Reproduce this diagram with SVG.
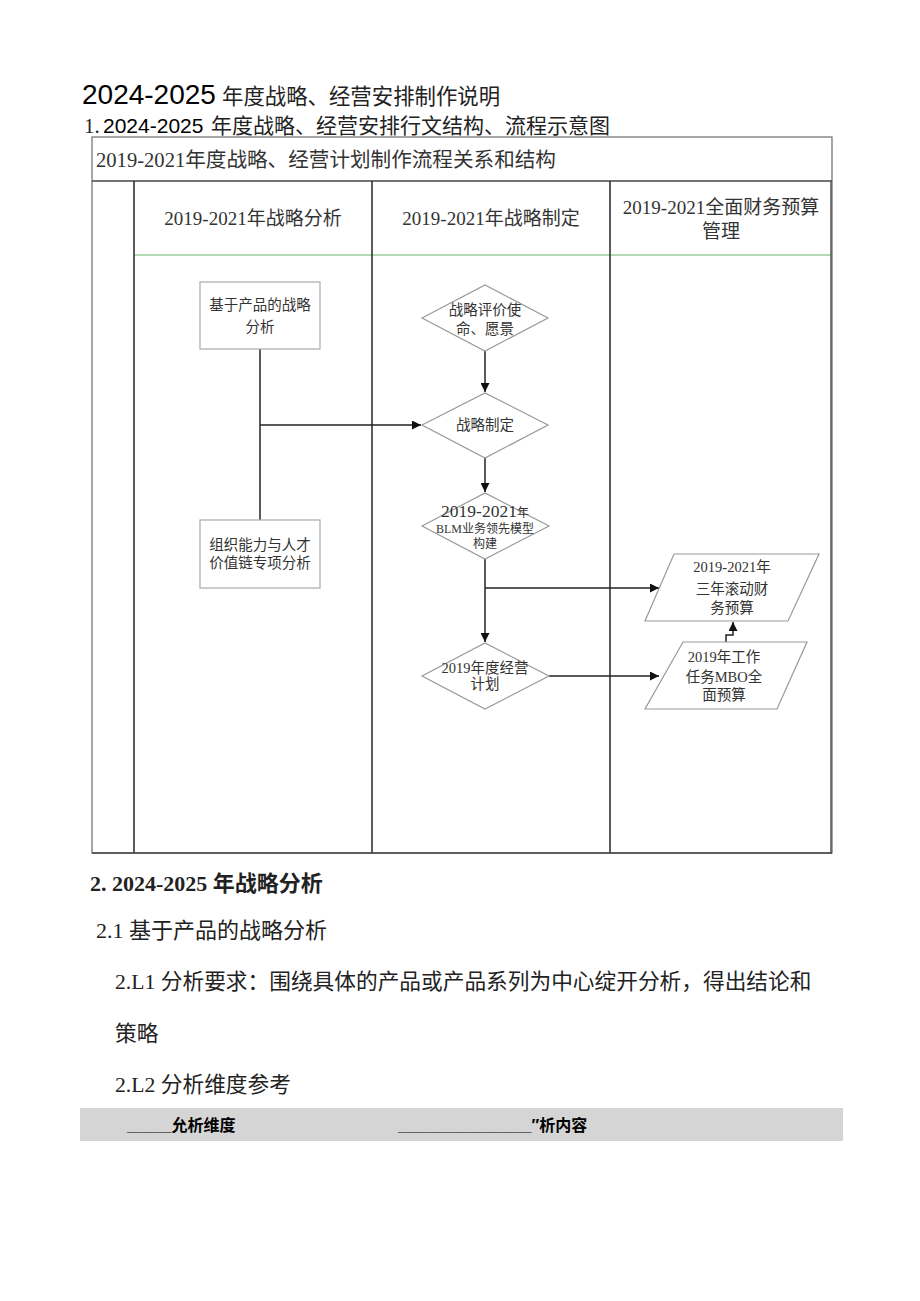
<svg xmlns="http://www.w3.org/2000/svg" width="920" height="1301" viewBox="0 0 920 1301">
<defs>
<marker id="arr" viewBox="0 0 10 10" refX="10" refY="5" markerWidth="9" markerHeight="9" markerUnits="userSpaceOnUse" orient="auto">
<path d="M0,0 L10,5 L0,10 z" fill="#111"/>
</marker>
</defs>
<style>
.cjk{font-family:"Liberation Serif","Noto Sans CJK SC",serif;fill:#333}
.sans{font-family:"Liberation Sans","Noto Sans CJK SC",sans-serif;fill:#000}
.doc{font-family:"Liberation Serif","Noto Sans CJK SC",serif;fill:#222}
.box{fill:#fff;stroke:#aaa;stroke-width:1.2}
.dia{fill:#fff;stroke:#999;stroke-width:1.2}
.conn line,.conn polyline{stroke:#222;stroke-width:1.5;fill:none}
.lane{stroke:#333;stroke-width:1.6}
</style>
<rect width="920" height="1301" fill="#fff"/>

<g id="heading">
<text x="82" y="104"><tspan class="sans" font-size="28">2024-2025</tspan><tspan class="doc" x="222" font-size="21.4" fill="#111">年度战略、经营安排制作说明</tspan></text>
<text y="133" font-size="21"><tspan class="doc" x="84" fill="#111">1.</tspan><tspan class="sans" x="103">2024-2025</tspan><tspan class="doc" x="211" fill="#111">年度战略、经营安排行文结构、流程示意图</tspan></text>
</g>

<g id="table">
<rect x="92" y="137" width="740" height="716" fill="none" stroke="#777" stroke-width="1.3"/>
<line x1="92" y1="181" x2="832" y2="181" stroke="#444" stroke-width="1.5"/>
<line x1="134" y1="255" x2="831" y2="255" stroke="#9c9" stroke-width="1.3"/>
<line class="lane" x1="134" y1="181" x2="134" y2="853"/>
<line class="lane" x1="372" y1="181" x2="372" y2="853"/>
<line class="lane" x1="610" y1="181" x2="610" y2="853"/>
<line x1="831" y1="181" x2="831" y2="853" stroke="#555" stroke-width="1.5"/>
<line x1="92" y1="853" x2="832" y2="853" stroke="#444" stroke-width="1.6"/>
<text class="cjk" x="96" y="167" font-size="20.6">2019-2021年度战略、经营计划制作流程关系和结构</text>
<text class="cjk" x="253" y="225" font-size="19" text-anchor="middle">2019-2021年战略分析</text>
<text class="cjk" x="491" y="225" font-size="19" text-anchor="middle">2019-2021年战略制定</text>
<text class="cjk" x="721" y="214" font-size="19" text-anchor="middle">2019-2021全面财务预算</text>
<text class="cjk" x="721" y="238" font-size="19" text-anchor="middle">管理</text>
</g>

<g class="conn" id="connectors">
<line x1="260" y1="349" x2="260" y2="520"/>
<line x1="260" y1="425" x2="421" y2="425" marker-end="url(#arr)"/>
<line x1="485" y1="351" x2="485" y2="392" marker-end="url(#arr)"/>
<line x1="485" y1="458" x2="485" y2="492" marker-end="url(#arr)"/>
<line x1="485" y1="559" x2="485" y2="642" marker-end="url(#arr)"/>
<line x1="485" y1="588" x2="659" y2="588" marker-end="url(#arr)"/>
<line x1="549" y1="676" x2="659" y2="676" marker-end="url(#arr)"/>
<polyline points="726,642 726,635 733,635 733,622" marker-end="url(#arr)"/>
</g>

<g id="n-product">
<rect class="box" x="200" y="282" width="120" height="67"/>
<text class="cjk" x="260" y="310" font-size="14.5" text-anchor="middle">基于产品的战略</text>
<text class="cjk" x="260" y="332" font-size="14.5" text-anchor="middle">分析</text>
</g>

<g id="n-org">
<rect class="box" x="200" y="520" width="120" height="68"/>
<text class="cjk" x="260" y="550" font-size="14.5" text-anchor="middle">组织能力与人才</text>
<text class="cjk" x="260" y="568" font-size="14.5" text-anchor="middle">价值链专项分析</text>
</g>

<g id="n-mission">
<polygon class="dia" points="422,318 485,285 548,318 485,351"/>
<text class="cjk" x="485" y="315" font-size="14.5" text-anchor="middle">战略评价使</text>
<text class="cjk" x="485" y="334" font-size="14.5" text-anchor="middle">命、愿景</text>
</g>

<g id="n-strategy">
<polygon class="dia" points="422,425 485,393 548,425 485,458"/>
<text class="cjk" x="485" y="430" font-size="14.5" text-anchor="middle">战略制定</text>
</g>

<g id="n-blm">
<polygon class="dia" points="422,526 485,493 549,526 485,559"/>
<text class="cjk" x="485" y="517" font-size="17.5" text-anchor="middle">2019-2021<tspan font-size="12">年</tspan></text>
<text class="cjk" x="485" y="533" font-size="12" text-anchor="middle">BLM业务领先模型</text>
<text class="cjk" x="485" y="548" font-size="12" text-anchor="middle">构建</text>
</g>

<g id="n-plan">
<polygon class="dia" points="422,676 485,643 549,676 485,709"/>
<text class="cjk" x="485" y="673" font-size="14.5" text-anchor="middle">2019年度经营</text>
<text class="cjk" x="485" y="689" font-size="14.5" text-anchor="middle">计划</text>
</g>

<g id="n-rolling">
<polygon class="dia" points="674,554 819,554 788,621 645,621"/>
<text class="cjk" x="732" y="572" font-size="14.5" text-anchor="middle">2019-2021年</text>
<text class="cjk" x="732" y="594" font-size="14.5" text-anchor="middle">三年滚动财</text>
<text class="cjk" x="732" y="613" font-size="14.5" text-anchor="middle">务预算</text>
</g>

<g id="n-mbo">
<polygon class="dia" points="683,642 807,642 777,709 645,709"/>
<text class="cjk" x="724" y="662" font-size="14.5" text-anchor="middle">2019年工作</text>
<text class="cjk" x="724" y="682" font-size="14.5" text-anchor="middle">任务MBO全</text>
<text class="cjk" x="724" y="700" font-size="14.5" text-anchor="middle">面预算</text>
</g>

<g id="section2">
<text class="doc" x="90" y="891" font-size="22" font-weight="bold" fill="#111">2. 2024-2025 年战略分析</text>
<text class="doc" x="96" y="938" font-size="22">2.1 基于产品的战略分析</text>
<text class="doc" x="115" y="989" font-size="21.7">2.L1 分析要求：围绕具体的产品或产品系列为中心绽开分析，得出结论和</text>
<text class="doc" x="115" y="1041" font-size="21.7">策略</text>
<text class="doc" x="115" y="1092" font-size="21.7">2.L2 分析维度参考</text>
<rect x="80" y="1108" width="763" height="33" fill="#d5d5d5"/>
<text class="sans" x="127" y="1131" font-size="16" font-weight="bold">_____允析维度</text>
<text class="sans" x="398" y="1131" font-size="16" font-weight="bold">_______________″析内容</text>
</g>
</svg>
